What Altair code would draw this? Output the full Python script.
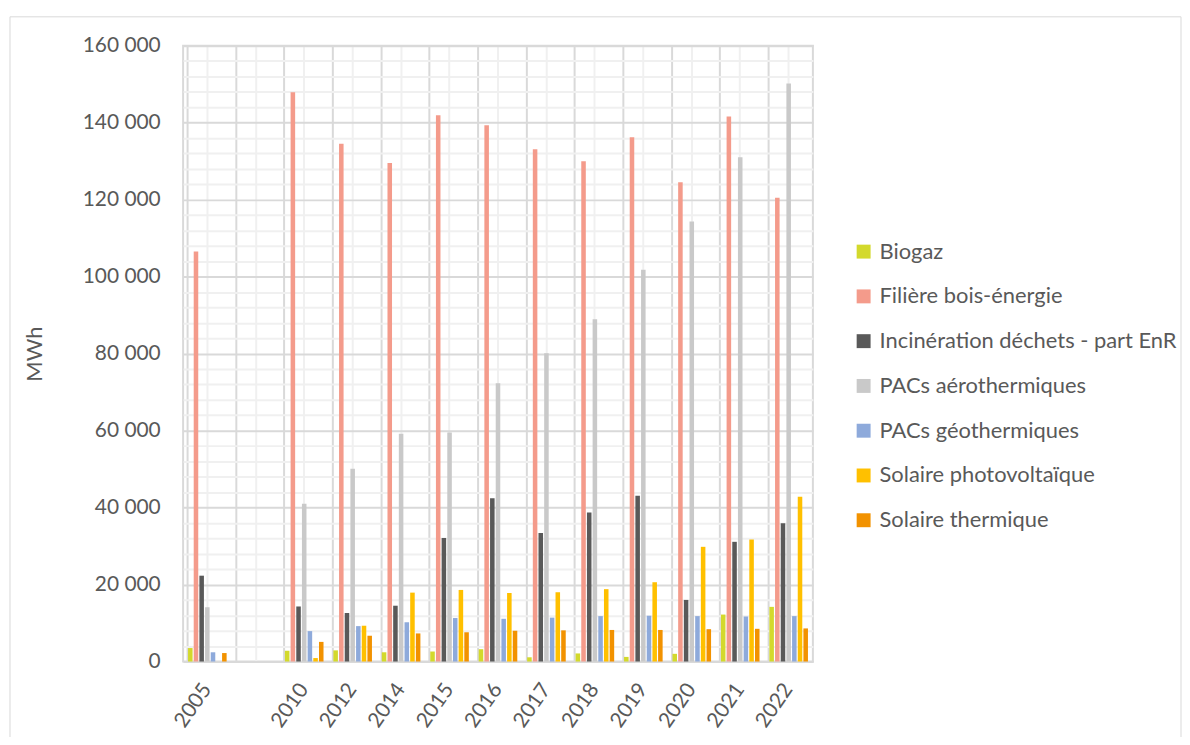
import altair as alt
import pandas as pd

years = ["2005", " ", "2010", "2012", "2014", "2015", "2016", "2017", "2018", "2019", "2020", "2021", "2022"]
series = ["Biogaz", "Filière bois-énergie", "Incinération déchets - part EnR",
          "PACs aérothermiques", "PACs géothermiques", "Solaire photovoltaïque", "Solaire thermique"]
colors = ["#d3d92c", "#f49b8b", "#595959", "#c9c9c9", "#8eaadb", "#ffc000", "#f29200"]

biogaz = [3500, 0, 2800, 2900, 2400, 2600, 3200, 1100, 2100, 1200, 2000, 12200, 14200]
bois = [106500, 0, 147900, 134500, 129500, 141900, 139300, 133100, 130000, 136200, 124500, 141600, 120500]
incineration = [22300, 0, 14300, 12600, 14500, 32100, 42400, 33400, 38700, 43100, 16000, 31100, 35900]
pac_aero = [14100, 0, 41000, 50100, 59200, 59500, 72300, 80100, 88900, 101800, 114300, 131000, 150200]
pac_geo = [2400, 0, 7900, 9200, 10200, 11300, 11100, 11400, 11800, 11900, 11800, 11700, 11800]
solaire_pv = [0, 0, 900, 9300, 17900, 18600, 17800, 18000, 18800, 20600, 29800, 31700, 42800]
solaire_th = [2200, 0, 5100, 6700, 7300, 7600, 8000, 8100, 8200, 8200, 8400, 8500, 8600]

major_ticks = [0, 20000, 40000, 60000, 80000, 100000, 120000, 140000, 160000]
minor_ticks = [v for v in range(0, 160001, 4000) if v not in major_ticks]

all_values = [biogaz, bois, incineration, pac_aero, pac_geo, solaire_pv, solaire_th]
rows = []
for s, vals in zip(series, all_values):
    for y, v in zip(years, vals):
        rows.append({"annee": y, "filiere": s, "mwh": v})
df = pd.DataFrame(rows)

W, H = 633, 619
FONT = "Lato"
TXT = "#595959"

x_scale = alt.Scale(domain=years, paddingInner=0.18, paddingOuter=0.09)
y_scale = alt.Scale(domain=[0, 160000], nice=False, zero=True)
label_fmt = "replace(format(datum.value, ','), ',', ' ')"

minor = alt.Chart(df).mark_bar(opacity=0).encode(
    x=alt.X("annee:N", scale=x_scale, sort=years,
            axis=alt.Axis(orient="bottom", grid=True, gridColor="#f0f0f0", gridWidth=2,
                          labels=False, ticks=False, domain=False, title=None)),
    y=alt.Y("mwh:Q", scale=y_scale,
            axis=alt.Axis(orient="left", values=minor_ticks, grid=True, gridColor="#f0f0f0",
                          gridWidth=2, labels=False, ticks=False, domain=False, title=None)),
)

major = alt.Chart(df).mark_bar(opacity=0).encode(
    x=alt.X("annee:N", scale=x_scale, sort=years,
            axis=alt.Axis(orient="bottom", bandPosition=0, grid=True, gridColor="#d9d9d9",
                          gridWidth=2, labels=False, ticks=False, domain=False, title=None)),
    y=alt.Y("mwh:Q", scale=y_scale,
            axis=alt.Axis(orient="left", values=major_ticks, grid=True, gridColor="#d9d9d9",
                          gridWidth=2, ticks=False, domain=False, labelExpr=label_fmt,
                          labelFont=FONT, labelFontSize=21, labelColor=TXT, labelPadding=23,
                          title="MWh", titleFont=FONT, titleFontSize=22, titleFontWeight="normal",
                          titleColor=TXT, titlePadding=36)),
)

bars = alt.Chart(df).mark_bar().encode(
    x=alt.X("annee:N", scale=x_scale, sort=years,
            axis=alt.Axis(orient="bottom", grid=False, ticks=False, domain=True,
                          domainColor="#d9d9d9", domainWidth=2, labelAngle=305,
                          labelFont=FONT, labelFontSize=21, labelColor=TXT, labelPadding=24,
                          title=None)),
    y=alt.Y("mwh:Q", scale=y_scale, axis=None),
    xOffset=alt.XOffset("filiere:N", sort=series,
                        scale=alt.Scale(paddingInner=0.2, paddingOuter=0.1)),
    color=alt.Color("filiere:N", sort=series,
                    scale=alt.Scale(domain=series, range=colors),
                    legend=alt.Legend(orient="none", legendX=673, legendY=196, title=None,
                                      symbolType="square", symbolSize=196, symbolStrokeWidth=0,
                                      labelFont=FONT, labelFontSize=22, labelColor=TXT,
                                      labelLimit=400, rowPadding=23, labelOffset=5)),
)

frame = alt.Chart(pd.DataFrame({"k": [0]})).mark_rect(
    fillOpacity=0, stroke="#d9d9d9", strokeWidth=1
).encode(x=alt.value(-174), x2=alt.value(1003), y=alt.value(-29), y2=alt.value(720))

chart = alt.layer(frame, minor, major, bars).resolve_axis(
    x="independent", y="independent"
).properties(
    width=W, height=H,
    autosize=alt.AutoSizeParams(type="none"),
    padding={"left": 176, "top": 36, "right": 371, "bottom": 74},
    background="white",
).configure_view(stroke="#d9d9d9", strokeWidth=2)

chart.save("out.html", embed_options={"renderer": "svg", "actions": False})
